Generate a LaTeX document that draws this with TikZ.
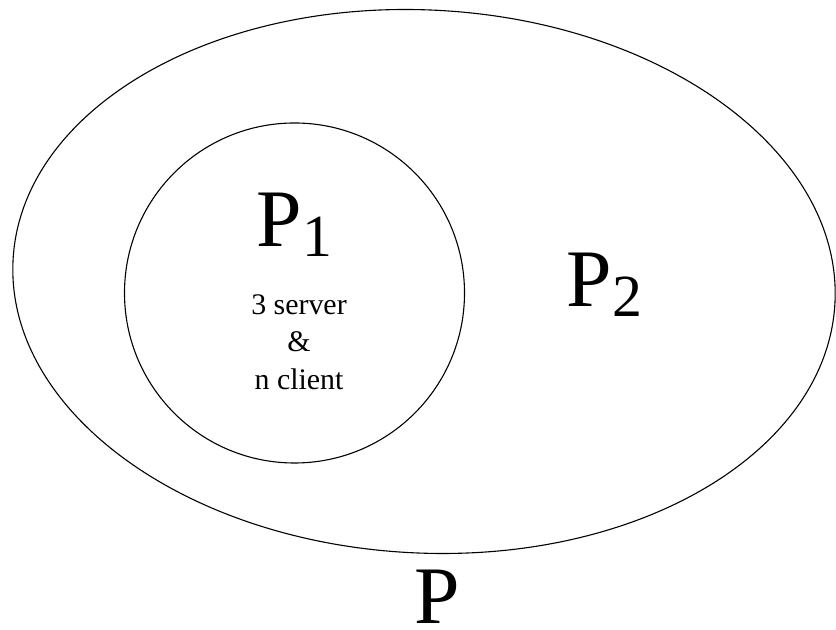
\documentclass[tikz,border=0pt]{standalone}
\usepackage{fontspec}
\setmainfont{Liberation Serif}
\usetikzlibrary{shapes.geometric}
\tikzset{
  setline/.style={draw, line width=1.1bp, inner sep=0pt},
  biglabel/.style={inner sep=0pt, anchor=base west, font=\fontsize{82}{98}\selectfont},
  smalllabel/.style={inner sep=0pt, anchor=base, font=\fontsize{30}{36}\selectfont},
}
\newcommand{\lowsub}[1]{\raisebox{-10bp}{\fontsize{60}{60}\selectfont #1}}

\begin{document}
\begin{tikzpicture}[x=1bp, y=1bp]
	\useasboundingbox (0, 0) rectangle (836, 630);
	\node[setline, ellipse, minimum width=823bp, minimum height=543bp, rotate=-3] (p) at (424, 348.5) {};
	\node[setline, circle, minimum size=340bp] (p1) at (294.5, 337) {};
	
	\node[biglabel] (p1label) at (256.7, 383) {P\lowsub{1}};
	\node[smalllabel] (server) at (299, 315) {3 server};
	\node[smalllabel] (and) at (299, 278) {\&};
	\node[smalllabel] (client) at (299, 240) {n client};
	\node[biglabel] (p2label) at (566.7, 323) {P\lowsub{2}};
	\node[biglabel] (plabel) at (414.7, 6) {P};
\end{tikzpicture}
\end{document}
